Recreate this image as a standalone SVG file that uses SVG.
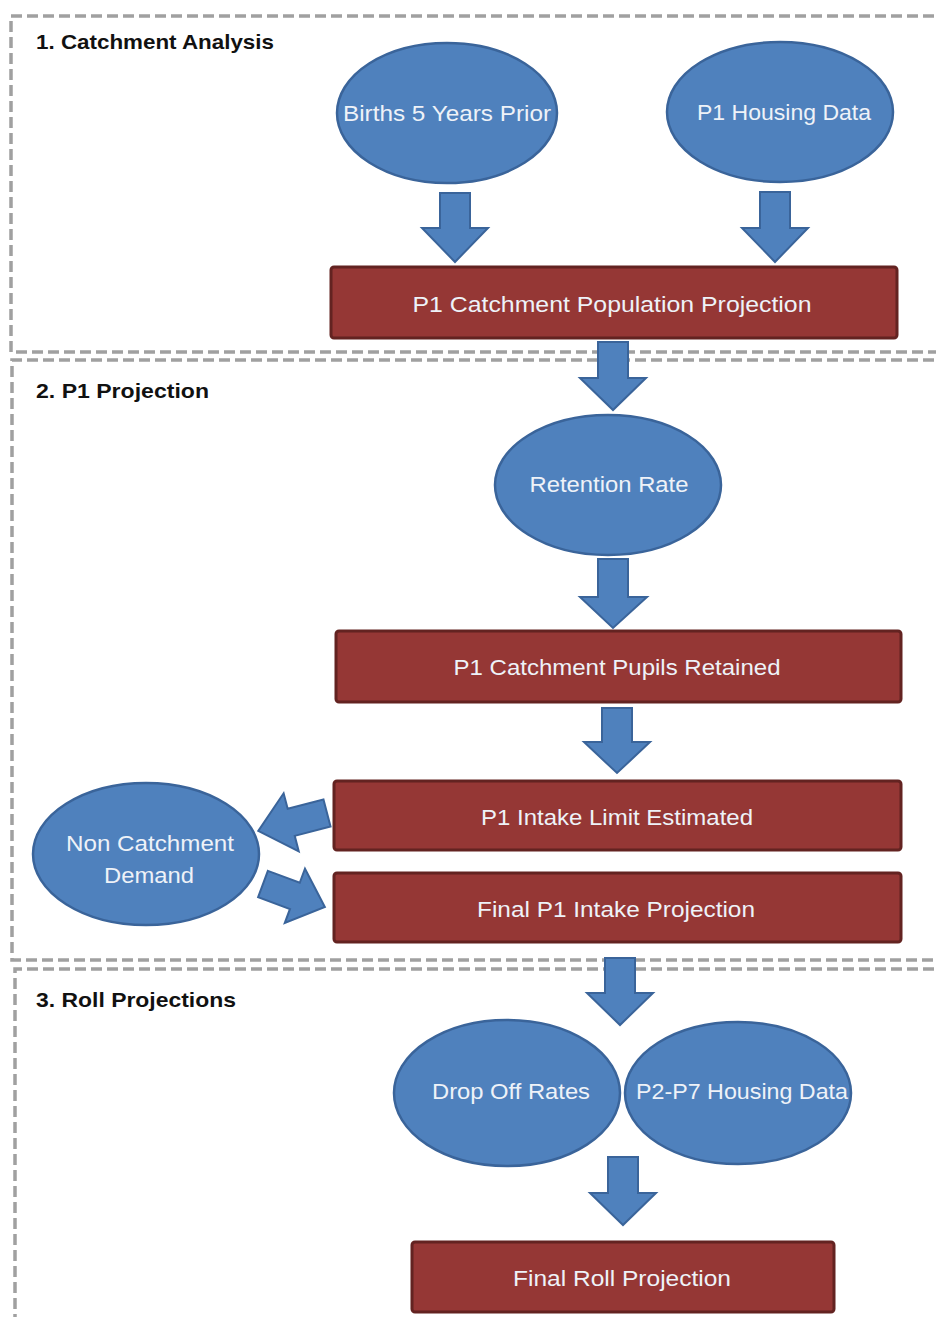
<svg xmlns="http://www.w3.org/2000/svg" width="936" height="1317" viewBox="0 0 936 1317">
<style>
.frame{fill:none;stroke:#a0a0a0;stroke-width:3.5;stroke-dasharray:11,5}
.title{font-family:"Liberation Sans",Arial,sans-serif;font-weight:bold;font-size:21px;fill:#111}
.ell{fill:#4f81bd;stroke:#3a649a;stroke-width:2.5}
.box{fill:#953735;stroke:#632321;stroke-width:3}
.lbl{font-family:"Liberation Sans",Arial,sans-serif;font-size:22px;fill:#eef2f8;text-anchor:middle}
.arr{fill:#4f81bd;stroke:#3a649a;stroke-width:2;stroke-linejoin:miter}
</style>
<rect width="936" height="1317" fill="#ffffff"/>
<g id="frames">
<path class="frame" d="M950,16 H11 V352 H950"/>
<path class="frame" d="M950,360 H12 V960 H950"/>
<path class="frame" d="M950,969 H15 V1330"/>
<text class="title" x="36" y="49" textLength="238" lengthAdjust="spacingAndGlyphs">1. Catchment Analysis</text>
<text class="title" x="36" y="398" textLength="173" lengthAdjust="spacingAndGlyphs">2. P1 Projection</text>
<text class="title" x="36" y="1007" textLength="200" lengthAdjust="spacingAndGlyphs">3. Roll Projections</text>
</g>
<g id="births"><ellipse class="ell" cx="447" cy="113" rx="110" ry="70"/><text class="lbl" x="447" y="121" textLength="208" lengthAdjust="spacingAndGlyphs">Births 5 Years Prior</text></g>
<g id="housing"><ellipse class="ell" cx="780" cy="112" rx="113" ry="70"/><text class="lbl" x="784" y="120" textLength="174" lengthAdjust="spacingAndGlyphs">P1 Housing Data</text></g>
<g id="catchpop"><rect class="box" x="331" y="267" width="566" height="71" rx="3"/><text class="lbl" x="612" y="312" textLength="399" lengthAdjust="spacingAndGlyphs">P1 Catchment Population Projection</text></g>
<g id="retention"><ellipse class="ell" cx="608" cy="485" rx="113" ry="70"/><text class="lbl" x="609" y="492" textLength="159" lengthAdjust="spacingAndGlyphs">Retention Rate</text></g>
<g id="retained"><rect class="box" x="336" y="631" width="565" height="71" rx="3"/><text class="lbl" x="617" y="675" textLength="327" lengthAdjust="spacingAndGlyphs">P1 Catchment Pupils Retained</text></g>
<g id="intakelimit"><rect class="box" x="334" y="781" width="567" height="69" rx="3"/><text class="lbl" x="617" y="825" textLength="272" lengthAdjust="spacingAndGlyphs">P1 Intake Limit Estimated</text></g>
<g id="noncatch"><ellipse class="ell" cx="146" cy="854" rx="113" ry="71"/><text class="lbl" x="150" y="851" textLength="168" lengthAdjust="spacingAndGlyphs">Non Catchment</text><text class="lbl" x="149" y="883" textLength="90" lengthAdjust="spacingAndGlyphs">Demand</text></g>
<g id="finalintake"><rect class="box" x="334" y="873" width="567" height="69" rx="3"/><text class="lbl" x="616" y="917" textLength="278" lengthAdjust="spacingAndGlyphs">Final P1 Intake Projection</text></g>
<g id="dropoff"><ellipse class="ell" cx="507" cy="1093" rx="113" ry="73"/><text class="lbl" x="511" y="1099" textLength="158" lengthAdjust="spacingAndGlyphs">Drop Off Rates</text></g>
<g id="p2p7"><ellipse class="ell" cx="738" cy="1093" rx="113" ry="71"/><text class="lbl" x="742" y="1099" textLength="212" lengthAdjust="spacingAndGlyphs">P2-P7 Housing Data</text></g>
<g id="finalroll"><rect class="box" x="412" y="1242" width="422" height="70" rx="3"/><text class="lbl" x="622" y="1286" textLength="218" lengthAdjust="spacingAndGlyphs">Final Roll Projection</text></g>
<g id="connectors">
<polygon class="arr" points="440,193 470,193 470,228 488,228 455,262 422,228 440,228"/>
<polygon class="arr" points="760,192 790,192 790,228 808,228 775,262 742,228 760,228"/>
<polygon class="arr" points="598,342 628,342 628,378 646,378 613,410 580,378 598,378"/>
<polygon class="arr" points="598,559 628,559 628,597 647,597 613,628 580,597 598,597"/>
<polygon class="arr" points="602,708 632,708 632,742 650,742 617,773 584,742 602,742"/>
<polygon class="arr" points="605,958 635,958 635,993 653,993 620,1025 587,993 605,993"/>
<polygon class="arr" points="608,1157 638,1157 638,1193 656,1193 623,1225 590,1193 608,1193"/>
<polygon class="arr" transform="translate(327,813) rotate(165.4)" points="0,-14 37,-14 37,-30 71,0 37,30 37,14 0,14"/>
<polygon class="arr" transform="translate(263,884) rotate(20.4)" points="0,-14 34,-14 34,-29 66,0 34,29 34,14 0,14"/>
</g>
</svg>
